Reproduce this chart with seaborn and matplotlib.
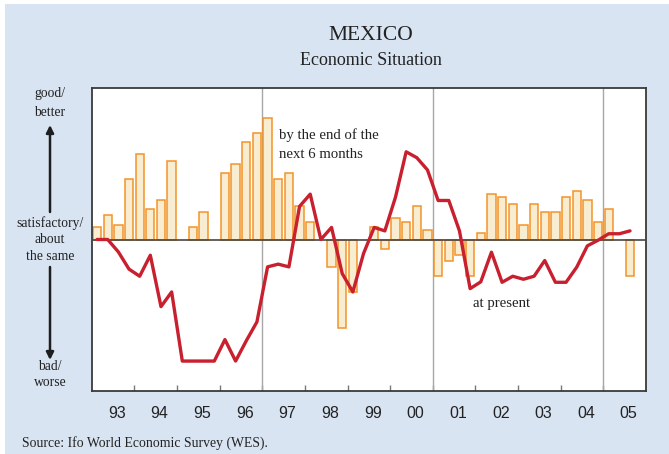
import numpy as np
import pandas as pd
import matplotlib
matplotlib.use("Agg")
import matplotlib.pyplot as plt
from matplotlib.patches import Rectangle
from matplotlib.transforms import ScaledTranslation
import seaborn as sns

# Quarterly survey balances, 1993 Q1 .. 2005 Q3 (None = no bar drawn)
years = ["93", "94", "95", "96", "97", "98", "99", "00", "01", "02", "03", "04", "05"]

expectations = [
    8, 15.9, 9.9, 40,            # 1993
    56.3, 19.9, 25.8, 52.1,      # 1994
    None, 8, 17.9, None,         # 1995
    44.2, 50.1, 64.2, 70.2,      # 1996
    80.1, 40, 44.2, 21.9,        # 1997
    11.9, None, -18.3, -58.3,    # 1998
    -34.7, None, 8, -6.2,        # 1999
    13.9, 11.9, 21.9, 6,         # 2000
    -24.3, -14.3, -10.4, -24.3,  # 2001
    4, 30, 27.8, 23.8,           # 2002
    9.9, 23.8, 17.9, 17.9,       # 2003
    27.8, 32, 25.8, 11.9,        # 2004
    19.9, None, -24.3,           # 2005
]

present = [
    0, 0, -8.2, -19.6,
    -24.3, -10.4, -44.4, -34.7,
    -80.4, -80.4, -80.4, -80.4,
    -66.2, -80.4, -67, -54.5,
    -18.1, -16.3, -18.1, 21.9,
    30, 0, 8, -22.5,
    -34.7, -9.3, 8, 5.7,
    28, 58, 54.1, 46,
    25.8, 25.8, 5.7, -32.5,
    -28, -8.4, -28.3, -24.3,
    -26.3, -24.3, -13.9, -28.3,
    -28.3, -18.3, -4.2, -0.5,
    3.8, 3.8, 5.7,
]

BG = "#D9E4F3"
BAR_FACE = "#F8EDD0"
BAR_EDGE = "#F2942A"
RED = "#C8202E"

sns.set_theme(style="white")
plt.rcParams["font.family"] = ["Liberation Serif", "DejaVu Serif"]

W, H = 669, 454
fig = plt.figure(figsize=(W / 100, H / 100), dpi=100)
fig.patch.set_facecolor("white")
fig.add_artist(Rectangle((5 / W, 0), 1 - 5 / W, 1 - 4 / H,
                         transform=fig.transFigure, facecolor=BG,
                         edgecolor="none", zorder=-10))

def fx(px):
    return px / W

def fy(py):
    return 1 - py / H

ax = fig.add_axes([fx(91.7), fy(390.7), fx(646) - fx(91.7), fy(88.3) - fy(390.7)])
ax.set_facecolor("white")

q_idx = np.arange(len(present))
bars = pd.DataFrame({"q": np.arange(len(expectations)),
                     "val": pd.array(expectations, dtype="Float64")}).dropna()
bars["val"] = bars["val"].astype(float)

sns.barplot(data=bars, x="q", y="val", native_scale=True, width=0.78,
            color=BAR_FACE, saturation=1, edgecolor=BAR_EDGE, linewidth=1.1,
            errorbar=None, ax=ax, zorder=2)

line_df = pd.DataFrame({"q": q_idx, "val": present})
sns.lineplot(data=line_df, x="q", y="val", color=RED, linewidth=2.4, ax=ax,
             zorder=5)

# zero line and four-year separators
ax.axhline(0, color="#4a4540", linewidth=1.2, zorder=4)
for k in (4, 8, 12):
    ax.axvline(-0.5 + 4 * k, color="#A8A8A8", linewidth=1.0, zorder=1)

ax.set_xlim(-0.5, 51.5)
ax.set_ylim(-100, 100)
ax.set_xlabel("")
ax.set_ylabel("")
ax.set_yticks([])

boundaries = [-0.5 + 4 * k for k in range(1, 13)]
centers = [1.5 + 4 * k for k in range(13)]
ax.set_xticks(boundaries)
ax.set_xticklabels([])
ax.set_xticks(centers, minor=True)
ax.set_xticklabels(years, minor=True, fontfamily="Liberation Sans",
                   fontsize=11.5, color="#222222")
ax.tick_params(axis="x", which="major", direction="in", length=4,
               width=1, color="#777777", bottom=True)
ax.tick_params(axis="x", which="minor", length=0, pad=11)
shift = ScaledTranslation(4 / 100, 0, fig.dpi_scale_trans)
for lbl in ax.xaxis.get_minorticklabels():
    lbl.set_transform(lbl.get_transform() + shift)

for side, sp in ax.spines.items():
    sp.set_visible(True)
    sp.set_color("#3a3a3a")
    sp.set_linewidth(1.3)

# in-plot labels
fig.text(fx(279), fy(135), "by the end of the", fontsize=10.6,
         color="#222222", va="center", ha="left")
fig.text(fx(279), fy(155), "next 6 months", fontsize=10.6,
         color="#222222", va="center", ha="left")
fig.text(fx(473), fy(303), "at present", fontsize=10.6,
         color="#222222", va="center", ha="left")

# titles
fig.text(fx(371), fy(35), "MEXICO", fontsize=15.5, ha="center", va="center",
         color="#222222")
fig.text(fx(371), fy(60.5), "Economic Situation", fontsize=13, ha="center",
         va="center", color="#222222")

# left-hand scale description
for txt, y in [("good/", 94), ("better", 112), ("satisfactory/", 223),
               ("about", 239.5), ("the same", 256), ("bad/", 366),
               ("worse", 383)]:
    fig.text(fx(50), fy(y), txt, fontsize=9.8, ha="center", va="center",
             color="#222222")

arrow_kw = dict(arrowstyle="-|>", color="#1e1e1e", lw=1.8, mutation_scale=11,
                shrinkA=0, shrinkB=0)
ax.annotate("", xy=(fx(50), fy(125)), xytext=(fx(50), fy(212)),
            xycoords="figure fraction", textcoords="figure fraction",
            arrowprops=arrow_kw, annotation_clip=False)
ax.annotate("", xy=(fx(50), fy(360)), xytext=(fx(50), fy(267)),
            xycoords="figure fraction", textcoords="figure fraction",
            arrowprops=arrow_kw, annotation_clip=False)

fig.text(fx(21.7), fy(443), "Source: Ifo World Economic Survey (WES).",
         fontsize=9.9, ha="left", va="center", color="#222222")

fig.savefig("out.png", dpi=100, facecolor=fig.get_facecolor())
